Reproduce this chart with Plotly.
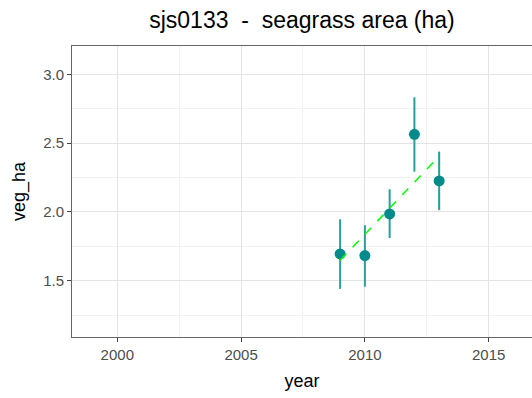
import plotly.graph_objects as go

years = [2009, 2010, 2011, 2012, 2013]
veg_ha = [1.694, 1.682, 1.985, 2.564, 2.225]
err_hi = [1.946, 1.903, 2.164, 2.833, 2.438]
err_lo = [1.440, 1.456, 1.810, 2.292, 2.012]
trend_years = [2009, 2013]
trend_vals = [1.648, 2.405]

x_ticks = [2000, 2005, 2010, 2015]
y_ticks = [1.5, 2.0, 2.5, 3.0]

fig = go.Figure()
fig.add_trace(go.Scatter(
    x=years, y=veg_ha, mode="markers",
    marker=dict(color="#008B8B", size=11),
    error_y=dict(type="data", symmetric=False,
                 array=[h - v for h, v in zip(err_hi, veg_ha)],
                 arrayminus=[v - l for v, l in zip(veg_ha, err_lo)],
                 color="#2A9D9D", thickness=2, width=0),
    showlegend=False))
fig.add_trace(go.Scatter(
    x=trend_years, y=trend_vals, mode="lines",
    line=dict(color="#00FF00", width=1.5, dash="dash"),
    showlegend=False))

fig.update_layout(
    width=532, height=398,
    margin=dict(l=72, r=0, t=46, b=61, autoexpand=False),
    plot_bgcolor="white", paper_bgcolor="white",
    font=dict(family="Liberation Sans, Arial, sans-serif"),
    title=dict(text="sjs0133&nbsp;&nbsp;-&nbsp;&nbsp;seagrass area (ha)",
               x=0.5, xref="paper", xanchor="center",
               y=1 - 20 / 398, yref="container", yanchor="middle",
               font=dict(size=23, color="black")),
)
fig.update_xaxes(
    automargin=False,
    range=[1998.17, 2016.75], tickvals=x_ticks, ticktext=[str(t) for t in x_ticks],
    showgrid=True, gridcolor="#E4E4E4", gridwidth=1,
    minor=dict(dtick=2.5, tick0=2000, showgrid=True, gridcolor="#F2F2F2", gridwidth=1, ticks=""),
    showline=True, linecolor="#666666", linewidth=1, mirror=True,
    ticks="outside", ticklen=4, tickcolor="#444444",
    tickfont=dict(size=15, color="#4D4D4D"),
    title=dict(text="year", font=dict(size=18, color="black"), standoff=12),
    zeroline=False,
)
fig.update_yaxes(
    automargin=False,
    range=[1.09, 3.206], tickvals=y_ticks, ticktext=["1.5", "2.0", "2.5", "3.0"],
    showgrid=True, gridcolor="#E4E4E4", gridwidth=1,
    minor=dict(dtick=0.25, tick0=1.0, showgrid=True, gridcolor="#F2F2F2", gridwidth=1, ticks=""),
    showline=True, linecolor="#666666", linewidth=1, mirror=False,
    ticks="outside", ticklen=4, tickcolor="#444444",
    tickfont=dict(size=15, color="#4D4D4D"),
    title=dict(text="veg_ha", font=dict(size=18, color="black"), standoff=12),
    zeroline=False,
)
fig.write_html("out.html", config={"displayModeBar": False},
               post_script="document.body.style.margin='0px';document.body.style.overflow='hidden';")
